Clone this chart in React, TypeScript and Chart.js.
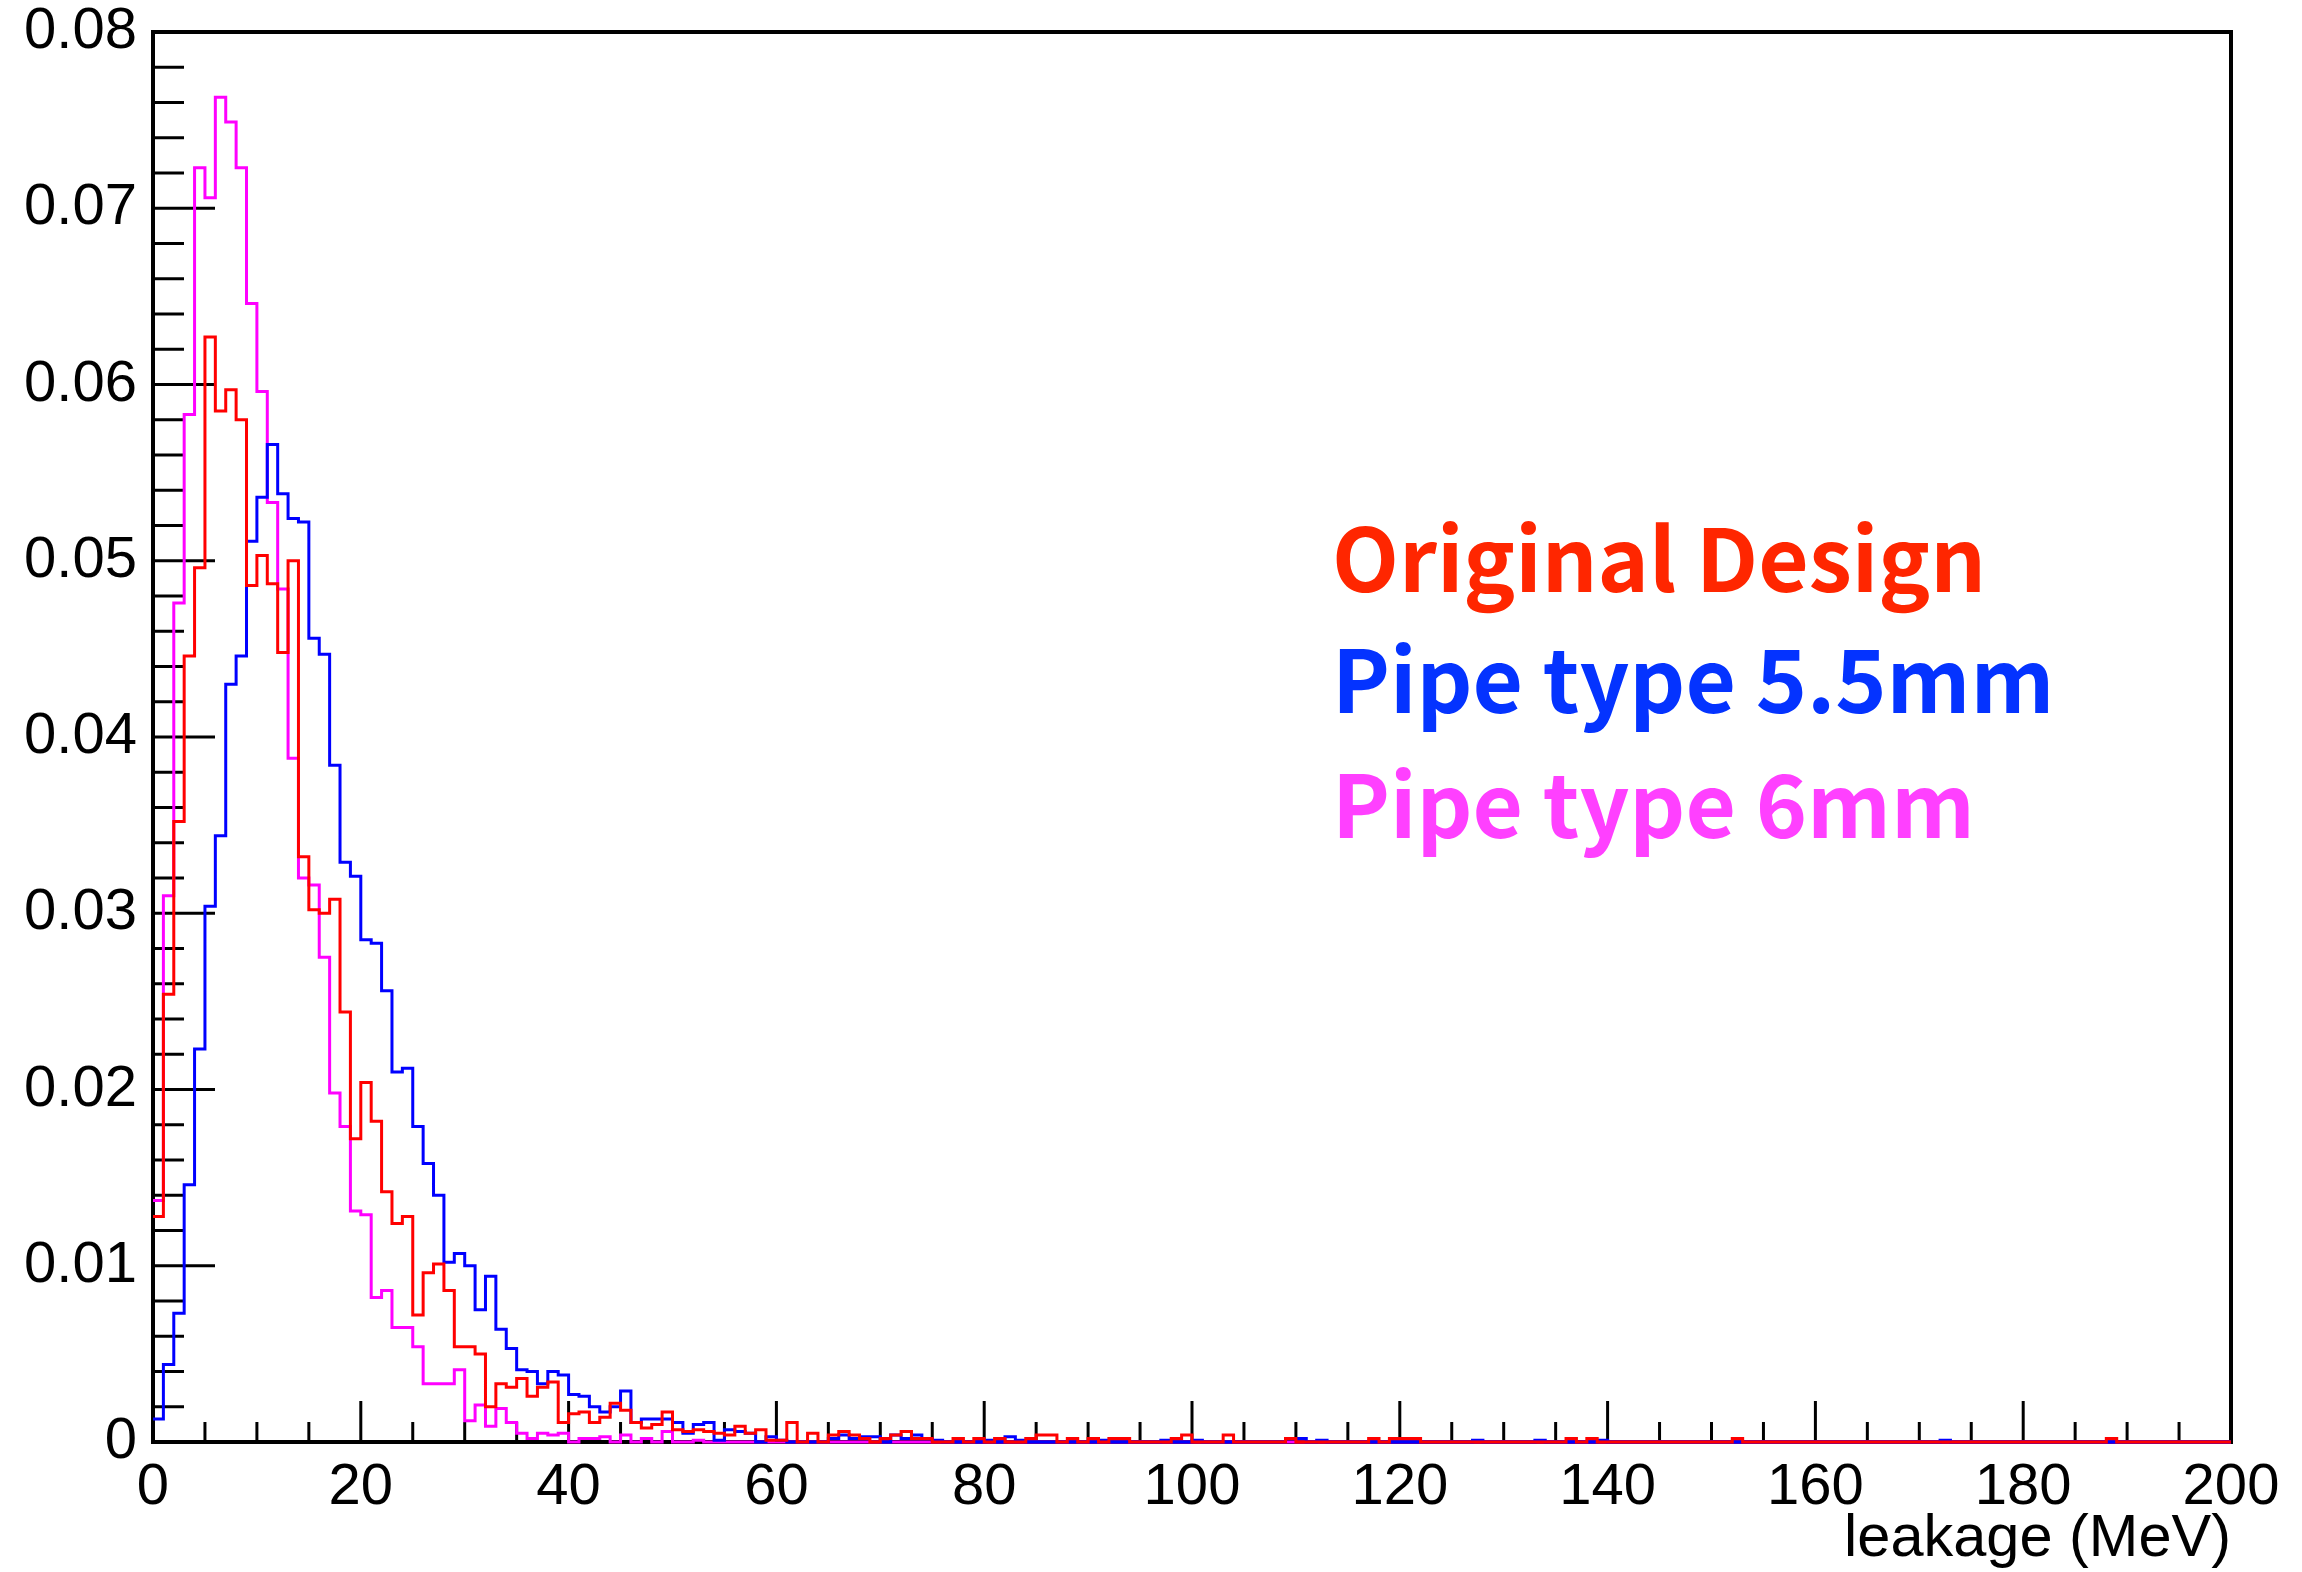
import React, { useEffect, useRef } from "react";
import { Chart, registerables } from "chart.js";

Chart.register(...registerables);

// ---------------- data ----------------
const X_MIN = 0;
const X_MAX = 200;

const seriesNames = ["Original Design", "Pipe type 5.5mm", "Pipe type 6mm"];

// 200 bins of 1 MeV each (0..200 MeV)
const originalDesign = [
  0.0128, 0.0254, 0.0352, 0.0446, 0.0496, 0.0627, 0.0585, 0.0597, 0.058, 0.0486,
  0.0503, 0.0487, 0.0448, 0.05, 0.0332, 0.0302, 0.03, 0.0308, 0.0244, 0.0172,
  0.0204, 0.0182, 0.0142, 0.0124, 0.0128, 0.0072, 0.0096, 0.0101, 0.0086, 0.0054,
  0.0054, 0.005, 0.002, 0.0033, 0.0031, 0.0036, 0.0026, 0.0031, 0.0034, 0.0011,
  0.0016, 0.0017, 0.0011, 0.0014, 0.0022, 0.0018, 0.0011, 0.0008, 0.001, 0.0017,
  0.0007, 0.0006, 0.0007, 0.0006, 0.0005, 0.0004, 0.0009, 0.0005, 0.0007, 0.0001,
  0.0001, 0.0011, 0, 0.0005, 0, 0.0004, 0.0006, 0.0004, 0.0002, 0,
  0.0002, 0.0004, 0.0006, 0.0002, 0.0002, 0, 0, 0.0002, 0, 0.0002,
  0, 0.0002, 0, 0, 0.0002, 0.0004, 0.0004, 0, 0.0002, 0,
  0.0002, 0, 0.0002, 0.0002, 0, 0, 0, 0, 0.0002, 0.0004,
  0, 0, 0, 0.0004, 0, 0, 0, 0, 0, 0.0002,
  0, 0, 0, 0, 0, 0, 0, 0.0002, 0, 0.0002,
  0.0002, 0.0002, 0, 0, 0, 0, 0, 0, 0, 0,
  0, 0, 0, 0, 0, 0, 0.0002, 0, 0.0002, 0,
  0, 0, 0, 0, 0, 0, 0, 0, 0, 0,
  0, 0, 0.0002, 0, 0, 0, 0, 0, 0, 0,
  0, 0, 0, 0, 0, 0, 0, 0, 0, 0,
  0, 0, 0, 0, 0, 0, 0, 0, 0, 0,
  0, 0, 0, 0, 0, 0, 0, 0, 0.0002, 0,
  0, 0, 0, 0, 0, 0, 0, 0, 0, 0,
];

const pipe55mm = [
  0.0013, 0.0044, 0.0073, 0.0146, 0.0223, 0.0304, 0.0344, 0.043, 0.0446, 0.0511,
  0.0536, 0.0566, 0.0538, 0.0524, 0.0522, 0.0456, 0.0447, 0.0384, 0.0329, 0.0321,
  0.0285, 0.0283, 0.0256, 0.021, 0.0212, 0.0179, 0.0158, 0.014, 0.0102, 0.0107,
  0.01, 0.0075, 0.0094, 0.0064, 0.0053, 0.0041, 0.004, 0.0033, 0.004, 0.0038,
  0.0027, 0.0026, 0.002, 0.0017, 0.002, 0.0029, 0.0011, 0.0013, 0.0013, 0.0013,
  0.0011, 0.0005, 0.001, 0.0011, 0.0001, 0.0007, 0.0006, 0.0005, 0, 0.0003,
  0.0001, 0, 0, 0, 0, 0.0002, 0.0004, 0.0002, 0.0003, 0.0003,
  0, 0.0004, 0.0002, 0.0004, 0.0002, 0.0001, 0, 0, 0, 0,
  0.0001, 0, 0.0003, 0.0001, 0, 0, 0, 0, 0, 0,
  0, 0.0001, 0, 0, 0, 0, 0, 0.0001, 0, 0,
  0.0001, 0, 0, 0, 0, 0, 0, 0, 0, 0.0002,
  0.0002, 0, 0.0001, 0, 0, 0, 0, 0, 0, 0,
  0, 0, 0, 0, 0, 0, 0, 0.0001, 0, 0,
  0, 0, 0, 0.0001, 0, 0, 0, 0, 0, 0.0001,
  0, 0, 0, 0, 0, 0, 0, 0, 0, 0,
  0, 0, 0, 0, 0, 0, 0, 0, 0, 0,
  0, 0, 0, 0, 0, 0, 0, 0, 0, 0,
  0, 0, 0.0001, 0, 0, 0, 0, 0, 0, 0,
  0, 0, 0, 0, 0, 0, 0, 0, 0, 0,
  0, 0, 0, 0, 0, 0, 0, 0, 0, 0,
];

const pipe6mm = [
  0.0137, 0.031, 0.0476, 0.0583, 0.0723, 0.0706, 0.0763, 0.0749, 0.0723, 0.0646,
  0.0596, 0.0533, 0.0484, 0.0388, 0.032, 0.0316, 0.0275, 0.0198, 0.0179, 0.0131,
  0.0129, 0.0082, 0.0086, 0.0065, 0.0065, 0.0054, 0.0033, 0.0033, 0.0033, 0.0041,
  0.0012, 0.0021, 0.0009, 0.0019, 0.0011, 0.0005, 0.0002, 0.0005, 0.0004, 0.0005,
  0, 0.0002, 0.0002, 0.0003, 0, 0.0004, 0, 0.0002, 0, 0.0006,
  0, 0, 0.0001, 0, 0, 0, 0, 0, 0, 0,
  0, 0, 0, 0, 0, 0, 0, 0, 0, 0,
  0, 0, 0, 0, 0, 0, 0, 0, 0, 0,
  0, 0, 0, 0, 0, 0, 0, 0, 0, 0,
  0, 0, 0, 0, 0, 0, 0, 0, 0, 0,
  0, 0, 0, 0, 0, 0, 0, 0, 0, 0,
  0, 0, 0, 0, 0, 0, 0, 0, 0, 0,
  0, 0, 0, 0, 0, 0, 0, 0, 0, 0,
  0, 0, 0, 0, 0, 0, 0, 0, 0, 0,
  0, 0, 0, 0, 0, 0, 0, 0, 0, 0,
  0, 0, 0, 0, 0, 0, 0, 0, 0, 0,
  0, 0, 0, 0, 0, 0, 0, 0, 0, 0,
  0, 0, 0, 0, 0, 0, 0, 0, 0, 0,
  0, 0, 0, 0, 0, 0, 0, 0, 0, 0,
  0, 0, 0, 0, 0, 0, 0, 0, 0, 0,
];

const xTickValues = [0, 20, 40, 60, 80, 100, 120, 140, 160, 180, 200];
const xTickLabels = ["0", "20", "40", "60", "80", "100", "120", "140", "160", "180", "200"];
const yTickValues = [0, 0.01, 0.02, 0.03, 0.04, 0.05, 0.06, 0.07, 0.08];
const yTickLabels = ["0", "0.01", "0.02", "0.03", "0.04", "0.05", "0.06", "0.07", "0.08"];
const xTitle = "leakage (MeV)";

// ---------------- styling ----------------
const LINE_COLORS = ["#ff0000", "#0000ff", "#ff00ff"];
const TEXT_COLORS = ["#ff2600", "#0433ff", "#ff40ff"];
const AXIS_FONT = "'Liberation Sans', Arial, Helvetica, sans-serif";
const X_MINOR_DIV = 4; // ticks every 5 between the 20-unit majors
const Y_MINOR_DIV = 5; // ticks every 0.002 between 0.01 majors

function outline(values: number[]) {
  const w = (X_MAX - X_MIN) / values.length;
  const pts: { x: number; y: number }[] = [];
  values.forEach((v, i) => {
    pts.push({ x: X_MIN + i * w, y: v });
    pts.push({ x: X_MIN + (i + 1) * w, y: v });
  });
  return pts;
}

const framePlugin = {
  id: "rootFrame",
  beforeDatasetsDraw(chart: any) {
    const { ctx, chartArea } = chart;
    const { left, right, top, bottom } = chartArea;
    const xs = chart.scales.x;
    const ys = chart.scales.y;
    ctx.save();
    ctx.strokeStyle = "#000";
    ctx.lineCap = "butt";
    ctx.lineWidth = 3;
    // y ticks (inside, pointing right)
    for (let i = 0; i < yTickValues.length; i++) {
      const py = ys.getPixelForValue(yTickValues[i]);
      ctx.beginPath();
      ctx.moveTo(left, py);
      ctx.lineTo(left + 62, py);
      ctx.stroke();
      if (i < yTickValues.length - 1) {
        const step = (yTickValues[i + 1] - yTickValues[i]) / Y_MINOR_DIV;
        for (let k = 1; k < Y_MINOR_DIV; k++) {
          const my = ys.getPixelForValue(yTickValues[i] + k * step);
          ctx.beginPath();
          ctx.moveTo(left, my);
          ctx.lineTo(left + 31, my);
          ctx.stroke();
        }
      }
    }
    // x ticks (inside, pointing up)
    for (let i = 0; i < xTickValues.length; i++) {
      const px = xs.getPixelForValue(xTickValues[i]);
      ctx.beginPath();
      ctx.moveTo(px, bottom);
      ctx.lineTo(px, bottom - 41);
      ctx.stroke();
      if (i < xTickValues.length - 1) {
        const step = (xTickValues[i + 1] - xTickValues[i]) / X_MINOR_DIV;
        for (let k = 1; k < X_MINOR_DIV; k++) {
          const mx = xs.getPixelForValue(xTickValues[i] + k * step);
          ctx.beginPath();
          ctx.moveTo(mx, bottom);
          ctx.lineTo(mx, bottom - 20);
          ctx.stroke();
        }
      }
    }
    // frame
    ctx.lineWidth = 4;
    ctx.strokeRect(left, top, right - left, bottom - top);
    ctx.restore();
  },
};

const textLegendPlugin = {
  id: "textLegend",
  afterDatasetsDraw(chart: any) {
    const { ctx } = chart;
    ctx.save();
    ctx.font = "bold 87px 'Noto Sans CJK JP', 'Noto Sans', sans-serif";
    ctx.textAlign = "left";
    ctx.textBaseline = "alphabetic";
    const baselines = [592, 713, 838];
    seriesNames.forEach((name, i) => {
      ctx.fillStyle = TEXT_COLORS[i];
      ctx.fillText(name, 1332, baselines[i]);
    });
    ctx.restore();
  },
};

export default function App() {
  const canvasRef = useRef<HTMLCanvasElement | null>(null);

  useEffect(() => {
    const canvas = canvasRef.current;
    if (!canvas) return;
    const series = [originalDesign, pipe55mm, pipe6mm];
    const chart = new Chart(canvas, {
      type: "line",
      data: {
        datasets: series.map((vals, i) => ({
          label: seriesNames[i],
          data: outline(vals),
          borderColor: LINE_COLORS[i],
          backgroundColor: LINE_COLORS[i],
          borderWidth: 3,
          pointRadius: 0,
          pointHoverRadius: 0,
          tension: 0,
          fill: false,
          clip: 8,
          borderJoinStyle: "miter",
          borderCapStyle: "butt",
        })),
      },
      options: {
        responsive: false,
        animation: false,
        events: [],
        layout: { padding: { top: 32, right: 71, left: 0, bottom: 0 } },
        plugins: {
          legend: { display: false },
          tooltip: { enabled: false },
        },
        scales: {
          x: {
            type: "linear",
            min: X_MIN,
            max: X_MAX,
            afterFit: (s: any) => {
              s.height = 130;
            },
            afterBuildTicks: (s: any) => {
              s.ticks = xTickValues.map((v) => ({ value: v }));
            },
            grid: { display: false, drawTicks: false, tickLength: 0 },
            border: { display: false },
            ticks: {
              autoSkip: false,
              maxRotation: 0,
              minRotation: 0,
              padding: 17,
              color: "#000",
              font: { family: AXIS_FONT, size: 58, lineHeight: 1.0 },
              callback: (v: any) => xTickLabels[xTickValues.indexOf(Number(v))] ?? "",
            },
            title: {
              display: true,
              text: xTitle,
              align: "end",
              color: "#000",
              padding: 0,
              font: { family: AXIS_FONT, size: 59.5, lineHeight: 1.08 },
            },
          },
          y: {
            type: "linear",
            min: 0,
            max: 0.08,
            afterFit: (s: any) => {
              s.width = 153;
            },
            afterBuildTicks: (s: any) => {
              s.ticks = yTickValues.map((v) => ({ value: v }));
            },
            grid: { display: false, drawTicks: false, tickLength: 0 },
            border: { display: false },
            ticks: {
              autoSkip: false,
              padding: 16,
              color: "#000",
              font: { family: AXIS_FONT, size: 58, lineHeight: 0.3 },
              callback: (v: any) => {
                const idx = yTickValues.findIndex((t) => Math.abs(t - Number(v)) < 1e-9);
                return idx >= 0 ? yTickLabels[idx] : "";
              },
            },
          },
        },
      },
      plugins: [framePlugin, textLegendPlugin],
    } as any);
    return () => chart.destroy();
  }, []);

  return (
    <div
      style={{
        position: "fixed",
        left: 0,
        top: 0,
        width: 2302,
        height: 1572,
        background: "#fff",
        overflow: "hidden",
      }}
    >
      <canvas ref={canvasRef} width={2302} height={1572} style={{ display: "block", width: 2302, height: 1572 }} />
    </div>
  );
}
